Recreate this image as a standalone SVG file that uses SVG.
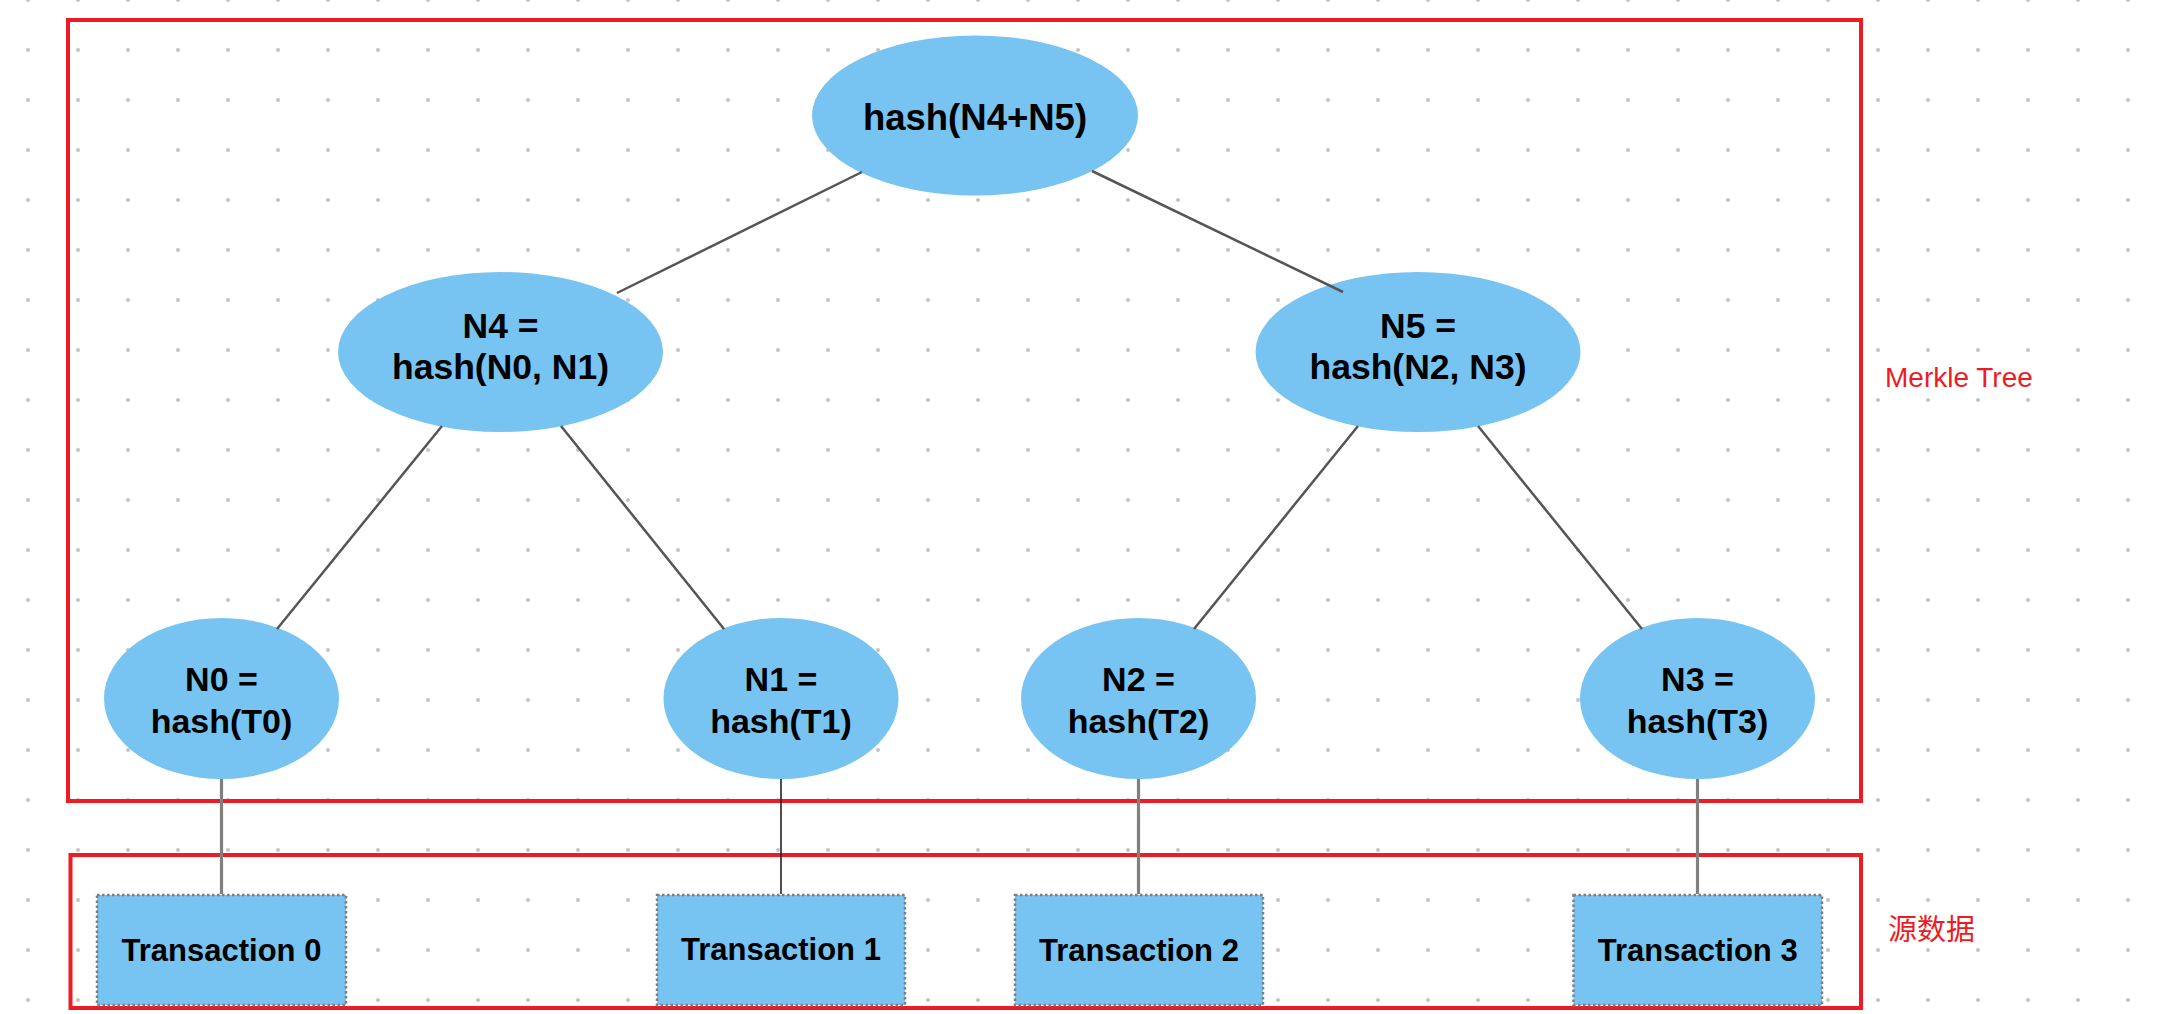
<svg xmlns="http://www.w3.org/2000/svg" width="2162" height="1014" viewBox="0 0 2162 1014">
  <defs>
    <pattern id="dots" x="3" y="-25" width="50" height="50" patternUnits="userSpaceOnUse">
      <circle cx="25" cy="25" r="2" fill="#c4c4c4"/>
    </pattern>
  </defs>
  <style>
    .frame { fill: none; stroke: #ed1c24; stroke-width: 4; }
    .flabel { font-family: "Liberation Sans", Arial, "Noto Sans CJK SC", sans-serif; font-size: 28px; fill: #ed1c24; }
    .hnode { fill: #77c3f1; }
    .tnode { fill: #77c3f1; stroke: #7a7f86; stroke-width: 2.5; stroke-dasharray: 2.5 2.5; }
    .ntext { font-family: "Liberation Sans", Arial, sans-serif; font-size: 34px; font-weight: bold; fill: #000; text-anchor: middle; }
    .mtext { font-size: 35.5px; }
    .rtext { font-size: 36.5px; }
    .ttext { font-family: "Liberation Sans", Arial, sans-serif; font-size: 31px; font-weight: bold; fill: #000; text-anchor: middle; }
    .edge { stroke: #555; stroke-width: 2.5; fill: none; }
    .leaf { stroke: #808080; stroke-width: 3.2; fill: none; }
    .leafthin { stroke: #222; stroke-width: 1.6; fill: none; }
  </style>
  <rect width="2162" height="1014" fill="#ffffff"/>
  <rect width="2162" height="1014" fill="url(#dots)"/>

  <g id="frames">
    <rect class="frame" x="68" y="20" width="1793" height="781"/>
    <text class="flabel" x="1885" y="387">Merkle Tree</text>
    <rect class="frame" x="70.5" y="855" width="1790.5" height="153"/>
    <text class="flabel" x="1888" y="940" style="font-family: 'Noto Sans CJK SC', 'Liberation Sans', sans-serif; font-size: 29px;">源数据</text>
  </g>

  <g id="root">
    <ellipse class="hnode" cx="975" cy="115.5" rx="163" ry="80"/>
    <text class="ntext rtext" x="975" y="130">hash(N4+N5)</text>
  </g>
  <g id="N4">
    <ellipse class="hnode" cx="500.5" cy="352" rx="162.5" ry="80"/>
    <text class="ntext mtext" x="500.5" y="338">N4 =</text>
    <text class="ntext mtext" x="500.5" y="379">hash(N0, N1)</text>
  </g>
  <g id="N5">
    <ellipse class="hnode" cx="1418" cy="352" rx="162.5" ry="80"/>
    <text class="ntext mtext" x="1418" y="338">N5 =</text>
    <text class="ntext mtext" x="1418" y="379">hash(N2, N3)</text>
  </g>
  <g id="N0">
    <ellipse class="hnode" cx="221.5" cy="698.5" rx="117.5" ry="80.5"/>
    <text class="ntext" x="221.5" y="691">N0 =</text>
    <text class="ntext" x="221.5" y="733">hash(T0)</text>
  </g>
  <g id="N1">
    <ellipse class="hnode" cx="781" cy="698.5" rx="117.5" ry="80.5"/>
    <text class="ntext" x="781" y="691">N1 =</text>
    <text class="ntext" x="781" y="733">hash(T1)</text>
  </g>
  <g id="N2">
    <ellipse class="hnode" cx="1138.5" cy="698.5" rx="117.5" ry="80.5"/>
    <text class="ntext" x="1138.5" y="691">N2 =</text>
    <text class="ntext" x="1138.5" y="733">hash(T2)</text>
  </g>
  <g id="N3">
    <ellipse class="hnode" cx="1697.5" cy="698.5" rx="117.5" ry="80.5"/>
    <text class="ntext" x="1697.5" y="691">N3 =</text>
    <text class="ntext" x="1697.5" y="733">hash(T3)</text>
  </g>

  <g id="T0">
    <rect class="tnode" x="97" y="895" width="249" height="110"/>
    <text class="ttext" x="221.5" y="961">Transaction 0</text>
  </g>
  <g id="T1">
    <rect class="tnode" x="657" y="895" width="248" height="110"/>
    <text class="ttext" x="781" y="960">Transaction 1</text>
  </g>
  <g id="T2">
    <rect class="tnode" x="1015" y="895" width="248" height="110"/>
    <text class="ttext" x="1139" y="961">Transaction 2</text>
  </g>
  <g id="T3">
    <rect class="tnode" x="1573.5" y="895" width="248.5" height="110"/>
    <text class="ttext" x="1697.7" y="961">Transaction 3</text>
  </g>

  <g id="connectors">
    <line class="edge" x1="862" y1="172" x2="617" y2="293"/>
    <line class="edge" x1="1092" y1="171" x2="1343" y2="292"/>
    <line class="edge" x1="442" y1="426" x2="277" y2="629"/>
    <line class="edge" x1="561" y1="426" x2="724" y2="629"/>
    <line class="edge" x1="1358" y1="426" x2="1194" y2="629"/>
    <line class="edge" x1="1478" y1="426" x2="1642" y2="629"/>
    <line class="leaf" x1="221.5" y1="779" x2="221.5" y2="894"/>
    <line class="leafthin" x1="781" y1="779" x2="781" y2="894"/>
    <line class="leaf" x1="1138.5" y1="779" x2="1138.5" y2="894"/>
    <line class="leaf" x1="1697.5" y1="779" x2="1697.5" y2="894"/>
  </g>
</svg>
